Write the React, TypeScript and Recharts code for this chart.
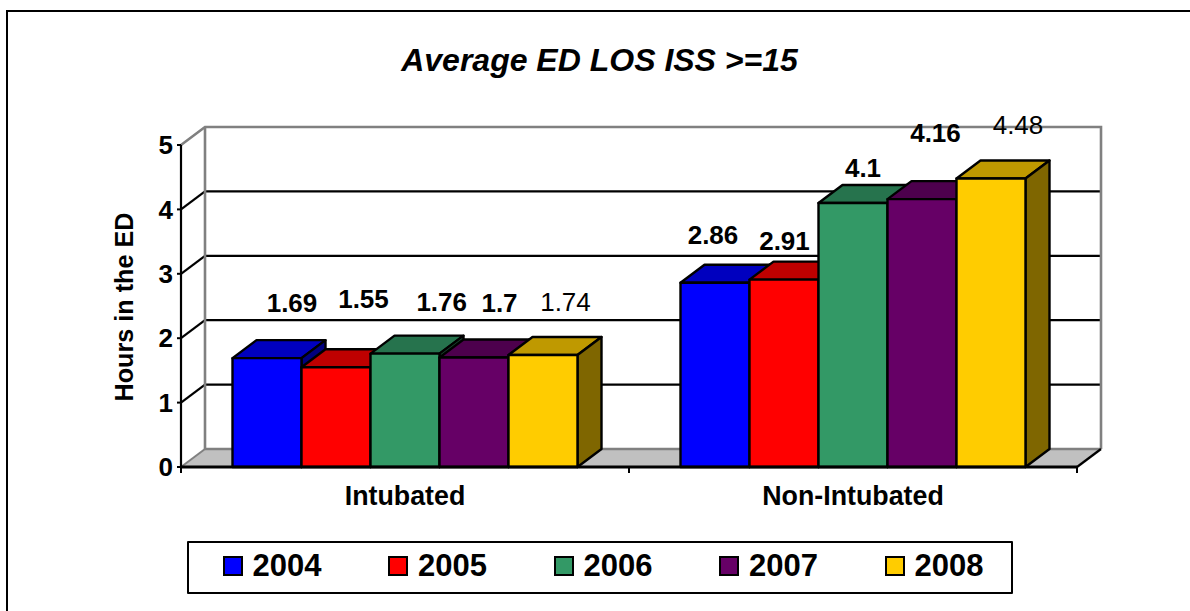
import React from "react";
import { ComposedChart, Bar, XAxis, YAxis, Legend, LabelList, ReferenceArea } from "recharts";

const categories = ["Intubated", "Non-Intubated"];
const years = ["2004", "2005", "2006", "2007", "2008"];
const v2004 = [1.69, 2.86];
const v2005 = [1.55, 2.91];
const v2006 = [1.76, 4.1];
const v2007 = [1.7, 4.16];
const v2008 = [1.74, 4.48];
const seriesValues = [v2004, v2005, v2006, v2007, v2008];
const yTicks = [0, 1, 2, 3, 4, 5];
const title = "Average ED LOS ISS >=15";
const yTitle = "Hours in the ED";

const fronts = ["#0000FF", "#FF0000", "#339966", "#660066", "#FFCC00"];
const tops = ["#0000BF", "#BF0000", "#26734D", "#4D004D", "#BF9900"];
const sides = ["#00007F", "#7F0000", "#1A4D33", "#330033", "#7F6600"];
const labelWeights = ["bold", "bold", "bold", "bold", "normal"];
// where each value label sits relative to its bar's centre-top
const labelNudges = [
  [[25, -46.5], [-2, -39]],
  [[27.5, -59], [0.5, -29.6]],
  [[36.7, -43], [10, -25.5]],
  [[25.5, -46], [13.5, -57.5]],
  [[22.5, -44.3], [27, -44.5]],
];

const rows = categories.map((name, i) => {
  const row: Record<string, string | number> = { name };
  years.forEach((y, s) => { row[y] = seriesValues[s][i]; });
  return row;
});

const FONT = "'Liberation Sans', Arial, sans-serif";
const DX = 24;
const DY = 18;

function Box3D(props: any) {
  const { x, y, width: w, height: h, s } = props;
  return (
    <g stroke="#000" strokeWidth={2.4} strokeLinejoin="round">
      <polygon points={`${x},${y} ${x + DX},${y - DY} ${x + w + DX},${y - DY} ${x + w},${y}`} fill={tops[s]} />
      <polygon points={`${x + w},${y} ${x + w + DX},${y - DY} ${x + w + DX},${y + h - DY} ${x + w},${y + h}`} fill={sides[s]} />
      <rect x={x} y={y} width={w} height={h} fill={fronts[s]} />
    </g>
  );
}

function Walls(props: any) {
  const { x, y, width: w, height: h } = props;
  const max = yTicks[yTicks.length - 1];
  const bottom = y + h;
  return (
    <g>
      <polygon points={`${x},${bottom} ${x + DX},${bottom - DY} ${x + w + DX},${bottom - DY} ${x + w},${bottom}`} fill="#C0C0C0" stroke="none" />
      <line x1={x} y1={bottom} x2={x + DX} y2={bottom - DY} stroke="#808080" strokeWidth={2} />
      <line x1={x + DX} y1={bottom - DY} x2={x + w + DX} y2={bottom - DY} stroke="#808080" strokeWidth={2.4} />
      {yTicks.slice(1, -1).map((t) => {
        const py = bottom - (t / max) * h;
        return (
          <g key={t} stroke="#000" strokeWidth={2.2}>
            <line x1={x} y1={py} x2={x + DX} y2={py - DY} />
            <line x1={x + DX} y1={py - DY} x2={x + w + DX} y2={py - DY} />
          </g>
        );
      })}
      <polyline points={`${x},${y} ${x + DX},${y - DY} ${x + w + DX},${y - DY} ${x + w + DX},${bottom - DY}`} fill="none" stroke="#808080" strokeWidth={2.6} />
      <line x1={x + DX} y1={y - DY} x2={x + DX} y2={bottom - DY} stroke="#808080" strokeWidth={2.6} />
      <line x1={x + w} y1={bottom} x2={x + w + DX} y2={bottom - DY} stroke="#000" strokeWidth={2.2} />
      {[0, 0.5, 1].map((f) => (
        <line key={f} x1={x + f * w} y1={bottom} x2={x + f * w} y2={bottom + 6} stroke="#000" strokeWidth={2} />
      ))}
    </g>
  );
}

function ValueLabel(props: any) {
  const { x, y, width, value, index, s } = props;
  const [dx, dy] = labelNudges[s][index];
  return (
    <text x={x + width / 2 + dx} y={y + dy} textAnchor="middle" fontFamily={FONT} fontSize={26} fontWeight={labelWeights[s]} fill="#000">
      {value}
    </text>
  );
}

function AxisTitle(props: any) {
  const vb = props.viewBox;
  const cx = vb.x + 12;
  const cy = vb.y + vb.height / 2 + 1;
  return (
    <text x={cx} y={cy} transform={`rotate(-90 ${cx} ${cy})`} textAnchor="middle" fontFamily={FONT} fontSize={25.2} fontWeight="bold" fill="#000">
      {yTitle}
    </text>
  );
}

function LegendBox(props: any) {
  const items = props.payload || [];
  return (
    <div style={{ boxSizing: "border-box", width: 826, height: 53, border: "2px solid #000", borderRadius: 1, position: "relative", background: "#fff" }}>
      {items.map((it: any, i: number) => (
        <div key={it.value} style={{ position: "absolute", left: 33.5 + i * 165.5, top: 0, height: 46, display: "flex", alignItems: "center" }}>
          <span style={{ display: "inline-block", boxSizing: "border-box", width: 20, height: 20, border: "2px solid #000", background: it.color, marginRight: 10 }} />
          <span style={{ fontFamily: FONT, fontWeight: "bold", fontSize: 31, color: "#000" }}>{it.value}</span>
        </div>
      ))}
    </div>
  );
}

export default function App() {
  return (
    <div style={{ position: "fixed", left: 0, top: 0, width: 1190, height: 611, overflow: "hidden", background: "#fff" }}>
      <div style={{ position: "absolute", left: 6, top: 10, width: 1400, height: 800, borderTop: "2px solid #000", borderLeft: "2px solid #000" }} />
      <div style={{ position: "absolute", left: 0, top: 42, width: 1199, textAlign: "center", fontFamily: FONT, fontSize: 32, fontWeight: "bold", fontStyle: "italic" }}>{title}</div>
      <div style={{ position: "absolute", left: 0, top: 0 }}>
        <ComposedChart
          width={1190}
          height={611}
          data={rows}
          barCategoryGap={51.5}
          barGap={0}
          margin={{ top: 145, right: 113, bottom: 104, left: 121 }}
        >
          <ReferenceArea y1={0} y2={5} shape={<Walls />} fill="none" stroke="none" />
          <XAxis
            dataKey="name"
            axisLine={{ stroke: "#000", strokeWidth: 3 }}
            tickLine={false}
            height={40}
            tickMargin={13}
            tick={{ fill: "#000", fontFamily: FONT, fontSize: 26.8, fontWeight: "bold" }}
          />
          <YAxis
            type="number"
            domain={[0, 5]}
            ticks={yTicks}
            width={60}
            interval={0}
            axisLine={{ stroke: "#000", strokeWidth: 2.2 }}
            tickLine={{ stroke: "#000", strokeWidth: 2 }}
            tickSize={4}
            tickMargin={4}
            tick={{ fill: "#000", fontFamily: FONT, fontSize: 26, fontWeight: "bold" }}
            label={{ value: yTitle, content: <AxisTitle /> }}
          />
          <Legend
            layout="horizontal"
            align="center"
            verticalAlign="middle"
            wrapperStyle={{ left: 187, top: 541, width: 826, height: 53, bottom: "auto", right: "auto", margin: 0 }}
            content={<LegendBox />}
          />
          {years.map((y, s) => (
            <Bar key={y} dataKey={y} fill={fronts[s]} isAnimationActive={false} shape={(p: any) => <Box3D {...p} s={s} />}>
              <LabelList dataKey={y} content={(p: any) => <ValueLabel {...p} s={s} />} />
            </Bar>
          ))}
        </ComposedChart>
      </div>
    </div>
  );
}
